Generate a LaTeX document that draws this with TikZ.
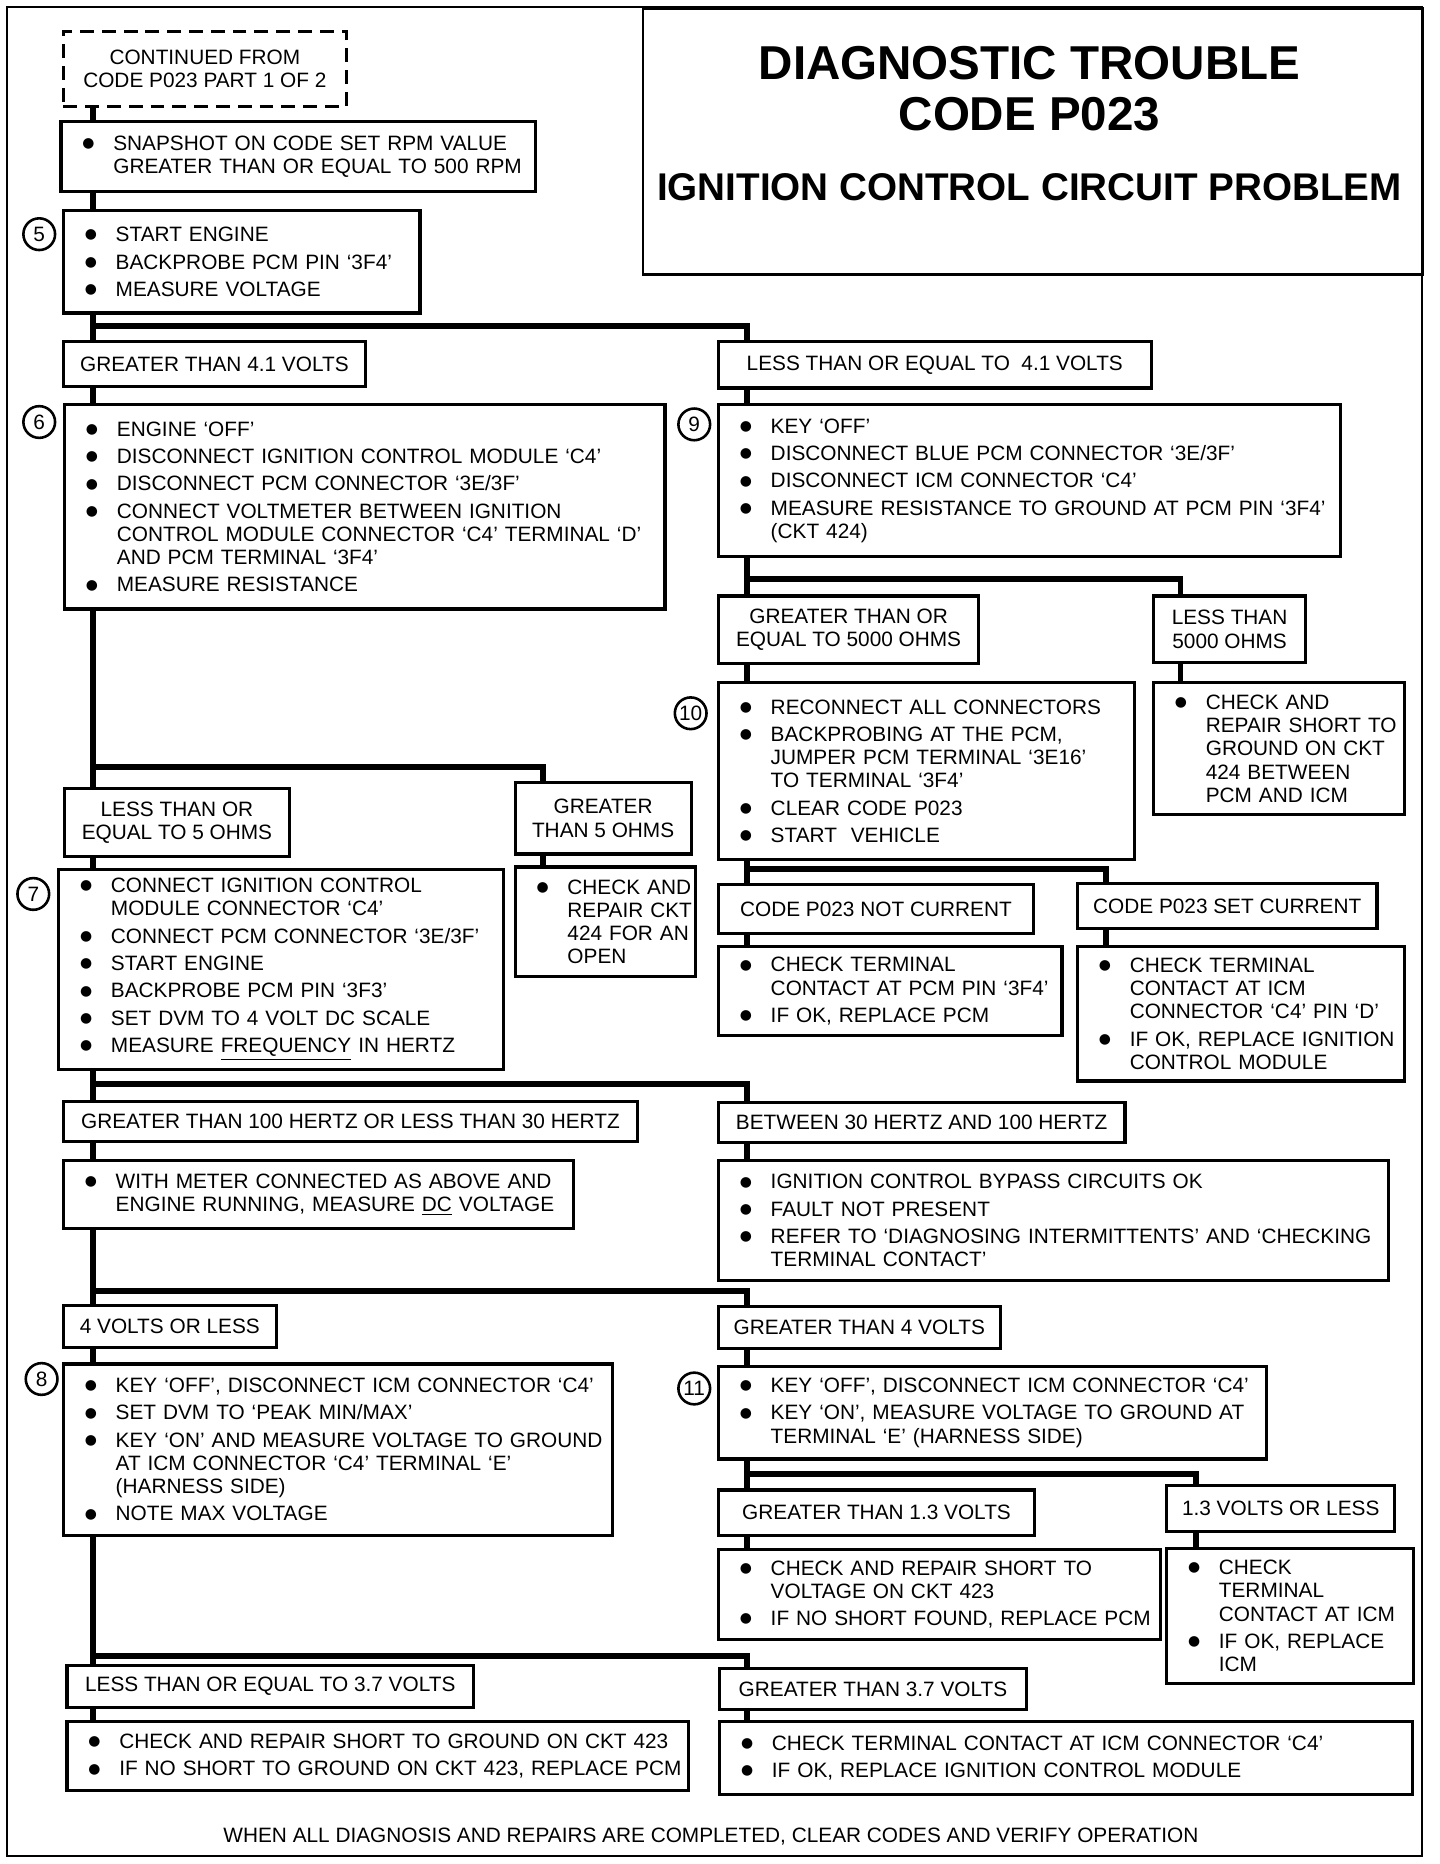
\documentclass[tikz,border=0pt]{standalone}
\usepackage{fontspec}
\setmainfont{Liberation Sans}
\newfontfamily\symfont{DejaVu Sans}
\usepackage{tikz}

\newcommand{\bxfont}{\fontsize{10.5pt}{11.7pt}\selectfont}
\newcommand{\blt}{\raisebox{1.4pt}{\fontsize{7pt}{7pt}\symfont ●}}
\newcommand{\itm}[1]{\leftskip=8.4pt\parskip=2.1pt\hyphenpenalty=10000\hangindent=15.6pt\hangafter=1\makebox[15.6pt][l]{\blt}#1\par}

\tikzset{
  bx/.style 2 args={draw, line width=1.6pt, anchor=north west, minimum width=#1*0.6pt, minimum height=#2*0.6pt, text width=(#1-8)*0.6pt, inner xsep=2.4pt, inner ysep=0pt, align=left, font=\bxfont},
  lb/.style 2 args={draw, line width=1.6pt, anchor=north west, minimum width=#1*0.6pt, minimum height=#2*0.6pt, inner sep=0pt, align=center, font=\bxfont},
  num/.style={draw, circle, line width=1.3pt, minimum size=16pt, inner sep=0pt, font=\bxfont},
  ln/.style={line width=3pt}
}

\begin{document}
\begin{tikzpicture}[x=0.6pt, y=-0.6pt]
    \useasboundingbox (0,0) rectangle (1211,1568);
    % Frame
    \draw[line width=1.2pt] (6,6) rectangle (1196,1561);

    % Title block
    \node[draw, line width=1.2pt, anchor=north west, minimum width=656*0.6pt, minimum height=224*0.6pt] (ttl) at (540,6) {};
    \node[anchor=base, font=\fontsize{24pt}{24pt}\selectfont\bfseries] (ttlA) at (866,67) {DIAGNOSTIC TROUBLE};
    \node[anchor=base, font=\fontsize{24pt}{24pt}\selectfont\bfseries] (ttlB) at (866,110) {CODE P023};
    \node[anchor=base, font=\fontsize{19.5pt}{19.5pt}\selectfont\bfseries] (ttlC) at (866,169) {IGNITION CONTROL CIRCUIT PROBLEM};

    % Trunks, drops and junctions
    \coordinate (tL) at (78,0);
    \coordinate (tR) at (628,0);
    \coordinate (dG5) at (457,0);
    \coordinate (dL5k) at (993,0);
    \coordinate (dSC) at (930,0);
    \coordinate (dV13) at (1006,0);
    \coordinate (j1) at (0,274);
    \coordinate (j2) at (0,645);
    \coordinate (j3) at (0,487);
    \coordinate (j4) at (0,731);
    \coordinate (j5) at (0,912);
    \coordinate (j6) at (0,1086);
    \coordinate (j7) at (0,1240);
    \coordinate (j8) at (0,1393);

    % Start
    \node[lb={238}{63}, dash pattern=on 7pt off 4pt] (cont) at (52,25) {CONTINUED FROM\\CODE P023 PART 1 OF 2};
    \node[bx={399}{59}] (snap) at (50,101) {\itm{SNAPSHOT ON CODE SET RPM VALUE\newline GREATER THAN OR EQUAL TO 500 RPM}};
    \node[bx={300}{86}] (b5) at (52,176) {\itm{START ENGINE}\itm{BACKPROBE PCM PIN `3F4'}\itm{MEASURE VOLTAGE}};
    \node[num] (c5) at (33,197) {5};

    % 4.1 volt split
    \node[lb={254}{38}] (g41) at (52,286) {GREATER THAN 4.1 VOLTS};
    \node[lb={364}{39}] (le41) at (603,286) {LESS THAN OR EQUAL TO\ \ 4.1 VOLTS};

    % Step 6
    \node[bx={505}{172}] (b6) at (53,339) {\itm{ENGINE `OFF'}\itm{DISCONNECT IGNITION CONTROL MODULE `C4'}\itm{DISCONNECT PCM CONNECTOR `3E/3F'}\itm{CONNECT VOLTMETER BETWEEN IGNITION\newline CONTROL MODULE CONNECTOR `C4' TERMINAL `D'\newline AND PCM TERMINAL `3F4'}\itm{MEASURE RESISTANCE}};
    \node[num] (c6) at (33,355) {6};

    % Step 9
    \node[bx={523}{128}] (b9) at (603,339) {\itm{KEY `OFF'}\itm{DISCONNECT BLUE PCM CONNECTOR `3E/3F'}\itm{DISCONNECT ICM CONNECTOR `C4'}\itm{MEASURE RESISTANCE TO GROUND AT PCM PIN `3F4'\newline (CKT 424)}};
    \node[num] (c9) at (584,357) {9};
    \node[lb={219}{57}] (ge5k) at (603,500) {GREATER THAN OR\\EQUAL TO 5000 OHMS};
    \node[lb={128}{56}] (lt5k) at (969,500) {LESS THAN\\5000 OHMS};

    % Step 10
    \node[bx={350}{149}] (b10) at (603,573) {\itm{RECONNECT ALL CONNECTORS}\itm{BACKPROBING AT THE PCM,\newline JUMPER PCM TERMINAL `3E16'\newline TO TERMINAL `3F4'}\itm{CLEAR CODE P023}\itm{START\ \ VEHICLE}};
    \node[num] (c10) at (581,600) {10};
    \node[bx={211}{111}] (rep424) at (969,573) {\itm{CHECK~AND\newline REPAIR~SHORT~TO\newline GROUND~ON~CKT\newline 424~BETWEEN\newline PCM~AND~ICM}};
    \node[lb={265}{41}] (nc) at (603,743) {CODE P023 NOT CURRENT};
    \node[lb={252}{38}] (sc) at (905,742) {CODE P023 SET CURRENT};
    \node[bx={289}{75}] (pcmchk) at (603,795) {\itm{CHECK TERMINAL\newline CONTACT AT PCM PIN `3F4'}\itm{IF OK, REPLACE PCM}};
    \node[bx={275}{113}] (icmchk) at (905,795) {\itm{CHECK TERMINAL\newline CONTACT AT ICM\newline CONNECTOR `C4' PIN `D'}\itm{IF OK, REPLACE IGNITION\newline CONTROL MODULE}};

    % 5 ohm split
    \node[lb={189}{57}] (le5) at (53,662) {LESS THAN OR\\EQUAL TO 5 OHMS};
    \node[lb={148}{60}] (gt5) at (432,657) {GREATER\\THAN 5 OHMS};

    % Step 7
    \node[bx={374}{168}] (b7) at (48,730) {\itm{CONNECT IGNITION CONTROL\newline MODULE CONNECTOR `C4'}\itm{CONNECT PCM CONNECTOR `3E/3F'}\itm{START ENGINE}\itm{BACKPROBE PCM PIN `3F3'}\itm{SET DVM TO 4 VOLT DC SCALE}\itm{MEASURE \underline{FREQUENCY} IN HERTZ}};
    \node[num] (c7) at (28,752) {7};
    \node[bx={152}{92}] (open424) at (432,728) {\itm{CHECK~AND\newline REPAIR~CKT\newline 424~FOR~AN\newline OPEN}};

    % Hertz split
    \node[lb={483}{34}] (hz) at (52,925) {GREATER THAN 100 HERTZ OR LESS THAN 30 HERTZ};
    \node[lb={342}{34}] (btw) at (603,926) {BETWEEN 30 HERTZ AND 100 HERTZ};
    \node[bx={429}{57}] (dcv) at (52,975) {\itm{WITH METER CONNECTED AS ABOVE AND\newline ENGINE RUNNING, MEASURE \underline{DC} VOLTAGE}};
    \node[bx={564}{101}] (okbox) at (603,975) {\itm{IGNITION CONTROL BYPASS CIRCUITS OK}\itm{FAULT NOT PRESENT}\itm{REFER TO `DIAGNOSING INTERMITTENTS' AND `CHECKING\newline TERMINAL CONTACT'}};

    % 4 volt split
    \node[lb={179}{35}] (v4le) at (52,1097) {4 VOLTS OR LESS};
    \node[lb={237}{35}] (v4gt) at (603,1098) {GREATER THAN 4 VOLTS};

    % Step 8
    \node[bx={462}{144}] (b8) at (52,1146) {\itm{KEY `OFF', DISCONNECT ICM CONNECTOR `C4'}\itm{SET DVM TO `PEAK MIN/MAX'}\itm{KEY `ON' AND MEASURE VOLTAGE TO GROUND\newline AT ICM CONNECTOR `C4' TERMINAL `E'\newline (HARNESS SIDE)}\itm{NOTE MAX VOLTAGE}};
    \node[num] (c8) at (35,1160) {8};

    % Step 11
    \node[bx={461}{78}] (b11) at (603,1148) {\itm{KEY `OFF', DISCONNECT ICM CONNECTOR `C4'}\itm{KEY `ON', MEASURE VOLTAGE TO GROUND AT\newline TERMINAL `E' (HARNESS SIDE)}};
    \node[num] (c11) at (584,1168) {11};
    \node[lb={266}{38}] (v13gt) at (603,1252) {GREATER THAN 1.3 VOLTS};
    \node[lb={192}{39}] (v13le) at (980,1248) {1.3 VOLTS OR LESS};
    \node[bx={372}{76}] (sh423) at (603,1302) {\itm{CHECK AND REPAIR SHORT TO\newline VOLTAGE ON CKT 423}\itm{IF NO SHORT FOUND, REPLACE PCM}};
    \node[bx={208}{114}] (icmtc) at (980,1301) {\itm{CHECK\newline TERMINAL\newline CONTACT AT ICM}\itm{IF OK, REPLACE\newline ICM}};

    % 3.7 volt split
    \node[lb={342}{35}] (v37le) at (55,1400) {LESS THAN OR EQUAL TO 3.7 VOLTS};
    \node[lb={258}{35}] (v37gt) at (604,1402) {GREATER THAN 3.7 VOLTS};
    \node[bx={523}{58}] (gnd423) at (55,1447) {\itm{CHECK AND REPAIR SHORT TO GROUND ON CKT 423}\itm{IF NO SHORT TO GROUND ON CKT 423, REPLACE PCM}};
    \node[bx={583}{61}] (c4tc) at (604,1447) {\itm{CHECK TERMINAL CONTACT AT ICM CONNECTOR `C4'}\itm{IF OK, REPLACE IGNITION CONTROL MODULE}};

    % Footer
    \node[font=\bxfont] (foot) at (598,1545) {WHEN ALL DIAGNOSIS AND REPAIRS ARE COMPLETED, CLEAR CODES AND VERIFY OPERATION};

    % LEFT TRUNK
    \draw[ln] (cont.south -| tL) -- (snap.north -| tL);
    \draw[ln] (snap.south -| tL) -- (b5.north -| tL);
    \draw[ln] (b5.south -| tL) -- (g41.north -| tL);
    \draw[ln] (j1 -| tL) -| (le41.north -| tR);
    \draw[ln] (g41.south -| tL) -- (b6.north -| tL);
    \draw[ln] (b6.south -| tL) -- (le5.north -| tL);
    \draw[ln] (j2 -| tL) -| (gt5.north -| dG5);
    \draw[ln] (gt5.south -| dG5) -- (open424.north -| dG5);
    \draw[ln] (le5.south -| tL) -- (b7.north -| tL);
    \draw[ln] (b7.south -| tL) -- (hz.north -| tL);
    \draw[ln] (j5 -| tL) -| (btw.north -| tR);
    \draw[ln] (hz.south -| tL) -- (dcv.north -| tL);
    \draw[ln] (dcv.south -| tL) -- (v4le.north -| tL);
    \draw[ln] (j6 -| tL) -| (v4gt.north -| tR);
    \draw[ln] (v4le.south -| tL) -- (b8.north -| tL);
    \draw[ln] (b8.south -| tL) -- (v37le.north -| tL);
    \draw[ln] (j8 -| tL) -| (v37gt.north -| tR);
    \draw[ln] (v37le.south -| tL) -- (gnd423.north -| tL);

    % RIGHT TRUNK
    \draw[ln] (le41.south -| tR) -- (b9.north -| tR);
    \draw[ln] (b9.south -| tR) -- (ge5k.north -| tR);
    \draw[ln] (j3 -| tR) -| (lt5k.north -| dL5k);
    \draw[ln] (ge5k.south -| tR) -- (b10.north -| tR);
    \draw[ln] (lt5k.south -| dL5k) -- (rep424.north -| dL5k);
    \draw[ln] (b10.south -| tR) -- (nc.north -| tR);
    \draw[ln] (j4 -| tR) -| (sc.north -| dSC);
    \draw[ln] (nc.south -| tR) -- (pcmchk.north -| tR);
    \draw[ln] (sc.south -| dSC) -- (icmchk.north -| dSC);
    \draw[ln] (btw.south -| tR) -- (okbox.north -| tR);
    \draw[ln] (v4gt.south -| tR) -- (b11.north -| tR);
    \draw[ln] (b11.south -| tR) -- (v13gt.north -| tR);
    \draw[ln] (j7 -| tR) -| (v13le.north -| dV13);
    \draw[ln] (v13gt.south -| tR) -- (sh423.north -| tR);
    \draw[ln] (v13le.south -| dV13) -- (icmtc.north -| dV13);
    \draw[ln] (v37gt.south -| tR) -- (c4tc.north -| tR);
\end{tikzpicture}
\end{document}
